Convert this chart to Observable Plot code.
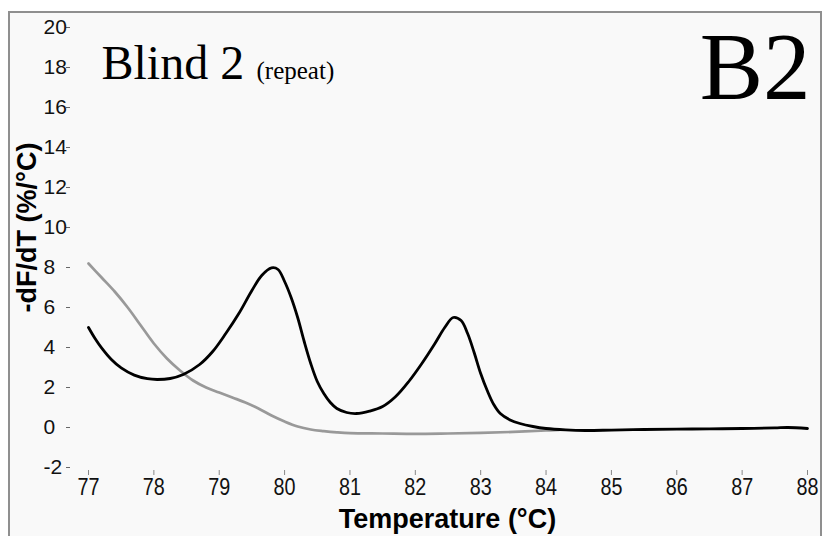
<!DOCTYPE html>
<html>
<head>
<meta charset="utf-8">
<script src="https://cdn.jsdelivr.net/npm/d3@7"></script>
<script src="https://cdn.jsdelivr.net/npm/@observablehq/plot@0.6"></script>
<style>
  html, body { margin: 0; padding: 0; background: #fff; overflow: hidden; }
  #chart { position: absolute; left: 8px; top: 11px; width: 810px; height: 525px;
           border: 2px solid #8f8f8f; border-bottom: none; background: #f9f9f9; }
  #chart svg { display: block; }
</style>
</head>
<body>
<div id="chart"></div>
<script>
// ---- Data ----
const xTicks = [77, 78, 79, 80, 81, 82, 83, 84, 85, 86, 87, 88];
const yTicks = [-2, 0, 2, 4, 6, 8, 10, 12, 14, 16, 18, 20];

// Black curve (sample)
const blackTemp = [77.0, 77.1, 77.2, 77.35, 77.5, 77.7, 77.9, 78.05, 78.25, 78.45, 78.7, 78.9,
  79.1, 79.3, 79.5, 79.65, 79.8, 79.9, 80.0, 80.1, 80.2, 80.3, 80.4, 80.5, 80.6, 80.7, 80.8,
  80.95, 81.1, 81.3, 81.5, 81.7, 81.9, 82.1, 82.3, 82.45, 82.58, 82.7, 82.8, 82.9, 83.0, 83.1,
  83.2, 83.3, 83.45, 83.6, 83.8, 84.0, 84.3, 84.6, 85.0, 85.5, 86.0, 86.5, 87.0, 87.5, 87.7, 88.0];
const blackValue = [5.0, 4.45, 3.98, 3.4, 2.98, 2.62, 2.44, 2.4, 2.45, 2.65, 3.15, 3.8,
  4.7, 5.7, 6.85, 7.6, 7.98, 7.9, 7.3, 6.5, 5.5, 4.3, 3.2, 2.3, 1.7, 1.25, 0.95,
  0.75, 0.7, 0.82, 1.05, 1.55, 2.3, 3.2, 4.2, 5.0, 5.5, 5.35, 4.7, 3.75, 2.7, 1.85,
  1.15, 0.7, 0.38, 0.2, 0.05, -0.05, -0.12, -0.15, -0.13, -0.1, -0.08, -0.07, -0.05, -0.02, 0.0, -0.05];

// Grey curve (repeat / control)
const greyTemp = [77.0, 77.2, 77.4, 77.6, 77.8, 78.0, 78.2, 78.4, 78.6, 78.8, 79.0, 79.2, 79.4,
  79.6, 79.8, 80.0, 80.2, 80.4, 80.6, 80.8, 81.0, 81.5, 82.0, 82.5, 83.0, 83.5, 84.0, 84.2];
const greyValue = [8.2, 7.5, 6.8, 6.0, 5.1, 4.2, 3.45, 2.85, 2.35, 2.0, 1.75, 1.5, 1.25,
  0.95, 0.6, 0.3, 0.05, -0.1, -0.18, -0.24, -0.28, -0.3, -0.32, -0.3, -0.27, -0.22, -0.15, -0.12];

const titleText = "Blind 2";
const subtitleText = "(repeat)";
const panelText = "B2";
const xLabel = "Temperature (°C)";
const yLabel = "-dF/dT (%/°C)";

// ---- Tables ----
const black = blackTemp.map((t, i) => ({t, v: blackValue[i]}));
const grey = greyTemp.map((t, i) => ({t, v: greyValue[i]}));

const sans = "'Liberation Sans', Arial, Helvetica, sans-serif";
const serif = "'Liberation Serif', 'Times New Roman', Times, serif";

const chart = Plot.plot({
  width: 810,
  height: 523,
  marginLeft: 60,
  marginRight: 13,
  marginTop: 14,
  marginBottom: 66,
  insetLeft: 18,
  insetBottom: 3,
  style: {background: "#f9f9f9", fontFamily: sans, color: "#111"},
  x: {domain: [77, 88]},
  y: {domain: [-2, 20]},
  marks: [
    // x axis
    Plot.axisX(xTicks, {tickSize: 5, tickPadding: 3, stroke: "#888", fill: "#111",
      fontSize: 23, tickFormat: d => String(d), label: null}),
    // y axis ticks
    Plot.axisY(yTicks, {tickSize: 4, stroke: "#666", fill: "none", label: null}),
    // y axis labels (left aligned)
    Plot.axisY(yTicks, {tickSize: 0, tickPadding: 0, dx: -27, textAnchor: "start",
      stroke: "none", fill: "#111", fontSize: 21, tickFormat: d => String(d), label: null}),
    // curves
    Plot.line(grey, {x: "t", y: "v", stroke: "#999", strokeWidth: 2.7, curve: "catmull-rom"}),
    Plot.line(black, {x: "t", y: "v", stroke: "#000", strokeWidth: 2.8, curve: "catmull-rom"}),
    // annotations
    Plot.text([titleText], {text: d => d, frameAnchor: "top-left", dx: 31, dy: 51,
      lineAnchor: "bottom", textAnchor: "start", fontSize: 48, fontFamily: serif, fill: "#000"}),
    Plot.text([subtitleText], {text: d => d, frameAnchor: "top-left", dx: 186, dy: 51,
      lineAnchor: "bottom", textAnchor: "start", fontSize: 25, fontFamily: serif, fill: "#000"}),
    Plot.text([panelText], {text: d => d, frameAnchor: "top-right", dx: 3, dy: 71,
      lineAnchor: "bottom", textAnchor: "end", fontSize: 95, fontFamily: serif, fill: "#000"}),
    Plot.text([xLabel], {text: d => d, frameAnchor: "bottom", dx: 8.5, dy: 57,
      lineAnchor: "bottom", textAnchor: "middle", fontSize: 27, fontWeight: "bold", fill: "#000"}),
    Plot.text([yLabel], {text: d => d, frameAnchor: "left", dx: -35, dy: -21.5, rotate: -90,
      lineAnchor: "bottom", textAnchor: "middle", fontSize: 27, fontWeight: "bold", fill: "#000"})
  ]
});
// condense x tick labels horizontally, like the reference's narrow digits
d3.select(chart).selectAll('g[aria-label="x-axis tick label"] text').each(function() {
  const tr = this.getAttribute("transform") || "";
  this.setAttribute("transform", tr + " scale(0.86,1)");
});
document.getElementById("chart").appendChild(chart);
</script>
</body>
</html>
